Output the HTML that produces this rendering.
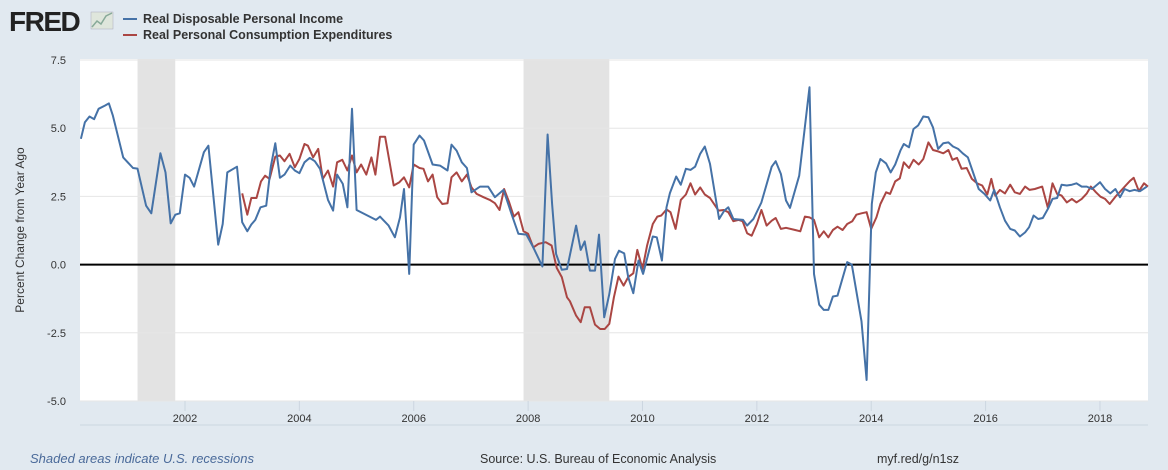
<!DOCTYPE html>
<html><head><meta charset="utf-8"><style>
body{margin:0;background:#e1e9f0;width:1168px;height:470px;overflow:hidden;font-family:"Liberation Sans","DejaVu Sans",sans-serif}
svg{position:absolute;left:0;top:0}
</style></head><body>
<svg width="1168" height="470" xmlns="http://www.w3.org/2000/svg" id="chart">
<g>
<text x="9" y="31" font-size="28" font-weight="bold" fill="#222" font-family="Liberation Sans, sans-serif" letter-spacing="-1.5">FRED</text>
<rect x="91" y="12" width="22" height="17" fill="#dfe6dc" stroke="#aab" stroke-width="0.5"/>
<polyline points="92,27 97,21 101,24 106,16 112,13" fill="none" stroke="#8a9" stroke-width="1.5"/>
</g>
<g>
<line x1="123" y1="19" x2="137" y2="19" stroke="#4572a7" stroke-width="2"/>
<text x="143" y="23" font-size="12.5" font-weight="bold" fill="#333">Real Disposable Personal Income</text>
<line x1="123" y1="35" x2="137" y2="35" stroke="#aa4643" stroke-width="2"/>
<text x="143" y="39" font-size="12.5" font-weight="bold" fill="#333">Real Personal Consumption Expenditures</text>
</g>
<rect x="80" y="59" width="1068" height="342" fill="#fff"/>
<g id="rec"></g><g id="grid"></g><g id="series"></g><g id="axes"></g>
<text transform="translate(24,230) rotate(-90)" text-anchor="middle" font-size="12" fill="#333">Percent Change from Year Ago</text>
<text x="30" y="463" font-size="13" font-style="italic" fill="#4a6a9a">Shaded areas indicate U.S. recessions</text>
<text x="480" y="463" font-size="12.5" fill="#333">Source: U.S. Bureau of Economic Analysis</text>
<text x="877" y="463" font-size="12.5" fill="#333">myf.red/g/n1sz</text>
</svg>
<script>
const yTicks=[7.5,5.0,2.5,0,-2.5,-5.0];
const xTicks=[2002,2004,2006,2008,2010,2012,2014,2016,2018];
const recStart=[2001.17,2007.92];
const recEnd=[2001.83,2009.42];
const incT=[2000.18,2000.25,2000.33,2000.41,2000.49,2000.6,2000.67,2000.74,2000.92,2001.09,2001.17,2001.32,2001.41,2001.57,2001.66,2001.75,2001.83,2001.91,2002.0,2002.08,2002.16,2002.33,2002.41,2002.58,2002.66,2002.74,2002.91,2003.0,2003.09,2003.16,2003.23,2003.32,2003.42,2003.5,2003.58,2003.66,2003.74,2003.84,2003.92,2004.0,2004.09,2004.18,2004.27,2004.36,2004.5,2004.59,2004.66,2004.76,2004.84,2004.92,2005.0,2005.34,2005.41,2005.56,2005.67,2005.76,2005.83,2005.92,2006.0,2006.1,2006.18,2006.33,2006.46,2006.59,2006.66,2006.75,2006.84,2006.93,2007.01,2007.16,2007.3,2007.42,2007.57,2007.71,2007.83,2007.97,2008.09,2008.25,2008.34,2008.42,2008.49,2008.59,2008.68,2008.84,2008.92,2008.99,2009.08,2009.17,2009.24,2009.33,2009.42,2009.52,2009.59,2009.68,2009.75,2009.84,2009.93,2010.01,2010.18,2010.25,2010.34,2010.42,2010.48,2010.59,2010.67,2010.76,2010.84,2010.92,2011.01,2011.09,2011.18,2011.34,2011.43,2011.5,2011.59,2011.76,2011.83,2011.94,2012.08,2012.26,2012.33,2012.42,2012.51,2012.58,2012.74,2012.92,2013.0,2013.09,2013.17,2013.25,2013.33,2013.41,2013.58,2013.66,2013.83,2013.92,2014.01,2014.08,2014.16,2014.26,2014.34,2014.42,2014.51,2014.57,2014.66,2014.74,2014.82,2014.91,2015.0,2015.08,2015.17,2015.26,2015.35,2015.43,2015.52,2015.6,2015.69,2015.79,2015.88,2015.98,2016.08,2016.15,2016.25,2016.34,2016.43,2016.51,2016.6,2016.69,2016.76,2016.84,2016.92,2017.0,2017.09,2017.17,2017.25,2017.33,2017.42,2017.51,2017.59,2017.68,2017.77,2017.86,2018.0,2018.09,2018.18,2018.27,2018.35,2018.43,2018.52,2018.6,2018.7,2018.82];
const incV=[4.61,5.22,5.43,5.33,5.71,5.83,5.91,5.46,3.93,3.54,3.52,2.16,1.88,4.08,3.38,1.51,1.83,1.88,3.30,3.18,2.86,4.12,4.36,0.73,1.49,3.38,3.59,1.55,1.22,1.47,1.64,2.10,2.16,3.59,4.45,3.18,3.30,3.63,3.45,3.35,3.75,3.91,3.79,3.51,2.37,1.98,3.30,2.96,2.10,5.71,2.0,1.64,1.76,1.43,1.0,1.73,2.77,-0.34,4.40,4.73,4.55,3.67,3.63,3.45,4.40,4.18,3.75,3.54,2.65,2.86,2.86,2.47,2.74,1.86,1.13,1.10,0.63,-0.07,4.77,2.22,0.39,-0.19,-0.16,1.43,0.54,0.85,-0.22,-0.22,1.10,-1.93,-1.08,0.21,0.51,0.41,-0.46,-1.05,0.15,-0.34,1.03,1.0,0.15,2.10,2.62,3.23,2.93,3.51,3.47,3.59,4.06,4.33,3.69,1.67,1.98,2.10,1.67,1.64,1.43,1.67,2.28,3.59,3.79,3.32,2.35,2.08,3.26,6.50,-0.34,-1.47,-1.66,-1.66,-1.17,-1.14,0.09,0.0,-2.08,-4.23,2.22,3.38,3.87,3.71,3.38,3.67,4.18,4.42,4.30,4.97,5.10,5.43,5.40,5.03,4.24,4.45,4.48,4.33,4.24,4.08,3.93,3.32,2.77,2.59,2.35,2.74,2.10,1.61,1.31,1.25,1.03,1.18,1.37,1.80,1.67,1.71,2.04,2.41,2.44,2.93,2.90,2.93,2.98,2.86,2.86,2.77,3.02,2.77,2.61,2.77,2.47,2.77,2.69,2.74,2.69,2.86];
const pceT=[2003.0,2003.09,2003.16,2003.25,2003.33,2003.4,2003.48,2003.58,2003.66,2003.74,2003.83,2003.92,2004.0,2004.09,2004.15,2004.24,2004.33,2004.41,2004.5,2004.59,2004.66,2004.75,2004.84,2004.92,2005.0,2005.08,2005.17,2005.26,2005.33,2005.41,2005.5,2005.65,2005.75,2005.83,2005.92,2006.0,2006.1,2006.17,2006.25,2006.33,2006.41,2006.5,2006.59,2006.66,2006.75,2006.84,2006.93,2007.01,2007.1,2007.22,2007.33,2007.42,2007.5,2007.58,2007.67,2007.75,2007.83,2007.92,2008.0,2008.09,2008.18,2008.31,2008.41,2008.5,2008.59,2008.68,2008.73,2008.84,2008.92,2008.99,2009.08,2009.17,2009.26,2009.34,2009.42,2009.5,2009.58,2009.67,2009.75,2009.84,2009.91,2010.0,2010.08,2010.18,2010.26,2010.33,2010.42,2010.49,2010.58,2010.67,2010.76,2010.84,2010.92,2011.01,2011.09,2011.18,2011.33,2011.42,2011.5,2011.59,2011.68,2011.75,2011.83,2011.91,2012.0,2012.08,2012.17,2012.26,2012.33,2012.42,2012.51,2012.67,2012.76,2012.84,2012.92,2013.0,2013.09,2013.17,2013.25,2013.33,2013.41,2013.5,2013.58,2013.67,2013.74,2013.83,2013.92,2014.0,2014.09,2014.16,2014.26,2014.33,2014.42,2014.5,2014.57,2014.66,2014.74,2014.83,2014.91,2015.0,2015.08,2015.17,2015.26,2015.35,2015.42,2015.5,2015.58,2015.67,2015.76,2015.85,2015.94,2016.03,2016.1,2016.17,2016.25,2016.34,2016.43,2016.51,2016.6,2016.69,2016.77,2016.86,2016.99,2017.09,2017.17,2017.25,2017.33,2017.42,2017.51,2017.59,2017.68,2017.77,2017.84,2017.93,2018.01,2018.09,2018.17,2018.27,2018.36,2018.45,2018.53,2018.59,2018.68,2018.77,2018.84];
const pceV=[2.61,1.83,2.44,2.44,3.05,3.26,3.14,3.96,4.00,3.79,4.06,3.57,3.87,4.42,4.36,3.93,4.24,3.14,3.45,2.86,3.75,3.84,3.45,4.00,3.38,3.67,3.30,3.93,3.30,4.69,4.69,2.90,3.02,3.20,2.83,3.67,3.54,3.51,3.05,3.30,2.47,2.22,2.25,3.20,3.38,3.05,3.30,2.83,2.59,2.47,2.37,2.25,2.0,2.77,2.28,1.76,1.92,1.22,1.13,0.63,0.76,0.82,0.70,-0.12,-0.46,-1.20,-1.34,-1.87,-2.11,-1.56,-1.56,-2.20,-2.36,-2.36,-2.17,-1.20,-0.44,-0.77,-0.46,-0.32,0.54,-0.16,0.70,1.49,1.76,1.80,2.02,1.92,1.31,2.37,2.57,2.98,2.57,2.83,2.57,2.44,1.98,2.0,1.92,1.59,1.64,1.59,1.15,1.06,1.49,2.0,1.43,1.61,1.71,1.31,1.35,1.27,1.22,1.76,1.73,1.64,1.0,1.22,1.0,1.27,1.39,1.27,1.49,1.59,1.83,1.88,1.92,1.31,1.73,2.22,2.65,2.59,3.05,3.16,3.75,3.54,3.84,3.67,3.87,4.48,4.20,4.15,4.08,4.20,3.84,3.91,3.51,3.54,3.14,2.98,2.90,2.57,3.14,2.53,2.74,2.61,2.93,2.65,2.59,2.86,2.74,2.77,2.86,2.08,2.98,2.59,2.53,2.28,2.41,2.28,2.41,2.61,2.86,2.65,2.49,2.41,2.22,2.49,2.69,2.90,3.08,3.18,2.69,2.98,2.86];

const NS='http://www.w3.org/2000/svg';
const X0=80,X1=1148,T0=2000.164,T1=2018.84,YT=60,YB=401,VMAX=7.5,VMIN=-5;
function xs(t){return X0+(t-T0)/(T1-T0)*(X1-X0);}
function ys(v){return YT+(VMAX-v)/(VMAX-VMIN)*(YB-YT);}
function mk(tag,attrs,parent){const e=document.createElementNS(NS,tag);for(const k in attrs)e.setAttribute(k,attrs[k]);document.getElementById(parent).appendChild(e);return e;}

for(let i=0;i<recStart.length;i++){
  const r=mk('rect',{x:xs(recStart[i]),y:59,width:xs(recEnd[i])-xs(recStart[i]),height:342,fill:'#e3e3e3'},'rec');
  
  
}
yTicks.forEach(v=>{
  if(v!==0){const g=mk('line',{x1:X0,x2:X1,y1:ys(v),y2:ys(v),stroke:'#e6e6e6','stroke-width':1},'grid');
  
  }
  const t=mk('text',{x:66,y:ys(v)+4,'text-anchor':'end','font-size':11,fill:'#333'},'axes');
  t.textContent=v.toFixed(1);
  
  
});
xTicks.forEach(yr=>{
  const l=mk('line',{x1:xs(yr),x2:xs(yr),y1:401,y2:411,stroke:'#ccd6e0','stroke-width':1},'axes');
  
  
  const t=mk('text',{x:xs(yr),y:422,'text-anchor':'middle','font-size':11,fill:'#333'},'axes');
  t.textContent=yr;
  
  
});
const ax=mk('line',{x1:X0,x2:X1,y1:425,y2:425,stroke:'#ccd6e0','stroke-width':1},'axes');


const z=mk('line',{x1:X0,x2:X1,y1:ys(0),y2:ys(0),stroke:'#000','stroke-width':2},'grid');


function series(T,V,color,name){
  const pts=T.map((t,i)=>xs(t).toFixed(1)+','+ys(V[i]).toFixed(1)).join(' ');
  const p=mk('polyline',{points:pts,fill:'none',stroke:color,'stroke-width':2,'stroke-linejoin':'round'},'series');
  
  
}
series(pceT,pceV,'#aa4643','series-consumption-expenditures');
series(incT,incV,'#4572a7','series-disposable-income');
</script>
</body></html>
